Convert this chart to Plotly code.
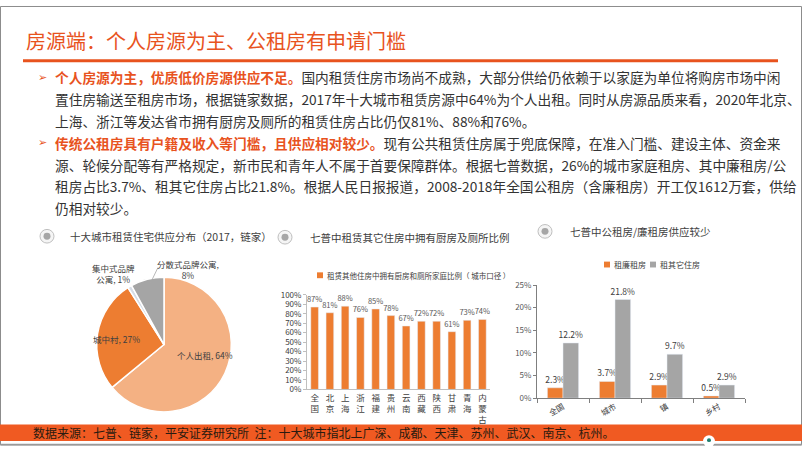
import plotly.graph_objects as go

W, H = 802, 451
def X(px): return px / W
def Y(py): return 1 - py / H

ORANGE_T = "#E8531E"
BAR_OR = "#ED7D31"
GRAY = "#A5A5A5"
FONT = "Noto Sans CJK SC"

# ---------------- data ----------------
pie_labels = ["个人出租", "城中村", "集中式品牌公寓", "分散式品牌公寓"]
pie_values = [64, 27, 1, 8]

mid_categories = ["全国", "北京", "上海", "浙江", "福建", "贵州", "云南", "西藏", "陕西", "甘肃", "青海", "内蒙古"]
mid_values = [87, 81, 88, 76, 85, 78, 67, 72, 72, 61, 73, 74]
mid_series = "租赁其他住房中拥有厨房和厕所家庭比例（ 城市口径 ）"

right_categories = ["全国", "城市", "镇", "乡村"]
right_lianzu = [2.3, 3.7, 2.9, 0.5]
right_other = [12.2, 21.8, 9.7, 2.9]
right_series = ["租廉租房", "租其它住房"]

title = "房源端：个人房源为主、公租房有申请门槛"
chart_titles = ["十大城市租赁住宅供应分布（2017，链家）",
                "七普中租赁其它住房中拥有厨房及厕所比例",
                "七普中公租房/廉租房供应较少"]
footer = "数据来源：七普、链家，平安证券研究所  注：十大城市指北上广深、成都、天津、苏州、武汉、南京、杭州。"

body_lines = [
    ("个人房源为主，优质低价房源供应不足。", "国内租赁住房市场尚不成熟，大部分供给仍依赖于以家庭为单位将购房市场中闲"),
    ("", "置住房输送至租房市场，根据链家数据，2017年十大城市租赁房源中64%为个人出租。同时从房源品质来看，2020年北京、"),
    ("", "上海、浙江等发达省市拥有厨房及厕所的租赁住房占比仍仅81%、88%和76%。"),
    ("传统公租房具有户籍及收入等门槛，且供应相对较少。", "现有公共租赁住房属于兜底保障，在准入门槛、建设主体、资金来"),
    ("", "源、轮候分配等有严格规定，新市民和青年人不属于首要保障群体。根据七普数据，26%的城市家庭租房、其中廉租房/公"),
    ("", "租房占比3.7%、租其它住房占比21.8%。根据人民日报报道，2008-2018年全国公租房（含廉租房）开工仅1612万套，供给"),
    ("", "仍相对较少。"),
]

fig = go.Figure()

# ---------------- pie ----------------
fig.add_trace(go.Pie(
    labels=pie_labels, values=pie_values, sort=False, direction="clockwise", rotation=0,
    marker=dict(colors=["#F4B183", "#ED7D31", "#D6DCE5", "#A5A5A5"], line=dict(color="white", width=1.5)),
    textinfo="none", hoverinfo="label+percent", showlegend=False,
    domain=dict(x=[X(95), X(233)], y=[Y(416), Y(278)]),
))

# ---------------- middle bars ----------------
fig.add_trace(go.Bar(
    x=mid_categories, y=mid_values, name=mid_series, marker_color=BAR_OR, width=0.5,
    text=[f"{v}%" for v in mid_values], textposition="outside", cliponaxis=False, constraintext="none",
    textfont=dict(size=7.6, color="#595959"), xaxis="x2", yaxis="y2", showlegend=False,
))

# ---------------- right grouped bars ----------------
fig.add_trace(go.Bar(
    x=right_categories, y=right_lianzu, name=right_series[0], marker_color=BAR_OR,
    texttemplate="%{y:.1f}%", textposition="outside", cliponaxis=False, constraintext="none",
    textfont=dict(size=8.5, color="#404040"), xaxis="x3", yaxis="y3", showlegend=False,
))
fig.add_trace(go.Bar(
    x=right_categories, y=right_other, name=right_series[1], marker_color=GRAY,
    texttemplate="%{y:.1f}%", textposition="outside", cliponaxis=False, constraintext="none",
    textfont=dict(size=8.5, color="#404040"), xaxis="x3", yaxis="y3", showlegend=False,
))

axis_line = "#BFBFBF"
fig.update_layout(
    width=W, height=H, margin=dict(l=0, r=0, t=0, b=0),
    paper_bgcolor="white", plot_bgcolor="white",
    font=dict(family=FONT, color="#404040"),
    barmode="group", bargap=0.4, bargroupgap=0,
    xaxis2=dict(domain=[X(307), X(490)], anchor="y2", showline=True, linecolor=axis_line,
                ticks="", tickfont=dict(size=8.5, color="#404040"),
                tickvals=mid_categories, ticktext=["<br>".join(c) for c in mid_categories],
                tickangle=0, showgrid=False, fixedrange=True),
    yaxis2=dict(domain=[Y(393), Y(296)], anchor="x2", range=[0, 100], dtick=10, ticksuffix="%",
                showline=True, linecolor=axis_line, ticks="outside", ticklen=3, tickcolor=axis_line,
                tickfont=dict(size=8, color="#404040"), showgrid=False, zeroline=False),
    xaxis3=dict(domain=[X(537), X(745)], anchor="y3", showline=True, linecolor="#7F7F7F",
                ticks="outside", tickson="boundaries", ticklen=4, tickcolor="#7F7F7F",
                tickangle=-30, tickfont=dict(size=8, color="#404040"), showgrid=False),
    yaxis3=dict(domain=[Y(402), Y(286)], anchor="x3", range=[0, 25], dtick=5, ticksuffix="%",
                showline=True, linecolor="#7F7F7F", ticks="outside", ticklen=3, tickcolor="#7F7F7F",
                tickfont=dict(size=8, color="#595959"), showgrid=False, zeroline=False),
)

shapes = []
ann = []

# outer border
shapes.append(dict(type="rect", xref="paper", yref="paper", x0=X(0.5), x1=X(801.5), y0=Y(450), y1=Y(0.5),
                   line=dict(color="#8C8C8C", width=1), fillcolor="rgba(0,0,0,0)", layer="below"))

# title
ann.append(dict(text=title, x=X(24), y=Y(35), xanchor="left", yanchor="middle",
                font=dict(size=20, color=ORANGE_T, family=FONT)))
shapes.append(dict(type="line", xref="paper", yref="paper", x0=X(23), x1=X(778), y0=Y(56), y1=Y(56),
                   line=dict(color=ORANGE_T, width=3)))

# body text
line_y = [73, 95, 118, 140, 163, 185, 207]
for (hl, rest), yy in zip(body_lines, line_y):
    if hl:
        txt = f"<span style='color:{ORANGE_T}'><b>{hl}</b></span>{rest}"
        ann.append(dict(text="➢", x=X(36), y=Y(yy), xanchor="left", yanchor="middle",
                        font=dict(size=11, color=ORANGE_T, family="DejaVu Sans")))
    else:
        txt = rest
    ann.append(dict(text=txt, x=X(53), y=Y(yy), xanchor="left", yanchor="middle",
                    font=dict(size=13.7, color="#333333", family=FONT)))

# chart section titles with circle icons
icons = [(47, 236, 68), (285, 237, 308), (545, 231, 568)]
for (cx, cy, tx), t in zip(icons, chart_titles):
    shapes.append(dict(type="circle", xref="paper", yref="paper", x0=X(cx - 7), x1=X(cx + 7),
                       y0=Y(cy + 7), y1=Y(cy - 7), fillcolor="#F5F5F5", line=dict(color="#BFBFBF", width=1)))
    shapes.append(dict(type="circle", xref="paper", yref="paper", x0=X(cx - 3.5), x1=X(cx + 3.5),
                       y0=Y(cy + 3.5), y1=Y(cy - 3.5), fillcolor="#A6A6A6", line=dict(width=0)))
    ann.append(dict(text=t, x=X(tx), y=Y(cy), xanchor="left", yanchor="middle",
                    font=dict(size=10.5, color="#404040", family=FONT)))

# pie labels
pie_pos = [(205, 358, "center"), (117, 341, "center"), (113, 274, "center"), (188, 270, "center")]
pie_texts = [f"{pie_labels[0]}, {pie_values[0]}%", f"{pie_labels[1]}, {pie_values[1]}%",
             f"{pie_labels[2][:5]}<br>{pie_labels[2][5:]}, {pie_values[2]}%",
             f"{pie_labels[3]},<br>{pie_values[3]}%"]
for (px_, py_, al), t in zip(pie_pos, pie_texts):
    ann.append(dict(text=t, x=X(px_), y=Y(py_), xanchor="center", yanchor="middle", align=al,
                    font=dict(size=8.5, color="#404040", family=FONT)))
shapes.append(dict(type="line", xref="paper", yref="paper", x0=X(149), x1=X(158), y0=Y(287), y1=Y(268),
                   line=dict(color="#A6A6A6", width=0.8)))

# middle legend
shapes.append(dict(type="rect", xref="paper", yref="paper", x0=X(317), x1=X(323), y0=Y(279), y1=Y(273),
                   fillcolor=BAR_OR, line=dict(width=0)))
ann.append(dict(text=mid_series, x=X(325), y=Y(276), xanchor="left", yanchor="middle",
                font=dict(size=7.5, color="#404040", family=FONT)))

# right legend
for (lx, col, name) in [(604, BAR_OR, right_series[0]), (650, GRAY, right_series[1])]:
    shapes.append(dict(type="rect", xref="paper", yref="paper", x0=X(lx), x1=X(lx + 6), y0=Y(268), y1=Y(262),
                       fillcolor=col, line=dict(width=0)))
    ann.append(dict(text=name, x=X(lx + 8), y=Y(265), xanchor="left", yanchor="middle",
                    font=dict(size=8, color="#404040", family=FONT)))

# footer band
shapes.append(dict(type="rect", xref="paper", yref="paper", x0=0, x1=1, y0=Y(446), y1=Y(429),
                   fillcolor="#F05A22", line=dict(width=0)))
shapes.append(dict(type="line", xref="paper", yref="paper", x0=0, x1=1, y0=Y(449.5), y1=Y(449.5),
                   line=dict(color="#9A9A9A", width=1.5)))
shapes.append(dict(type="circle", xref="paper", yref="paper", x0=X(703), x1=X(715), y0=Y(452), y1=Y(440),
                   fillcolor="white", line=dict(width=0)))
shapes.append(dict(type="circle", xref="paper", yref="paper", x0=X(707), x1=X(711), y0=Y(447), y1=Y(443),
                   fillcolor="#1F7F6F", line=dict(width=0)))
ann.append(dict(text=footer, x=X(31), y=Y(437.5), xanchor="left", yanchor="middle",
                font=dict(size=12, color="#2A1A10", family=FONT)))

for a in ann:
    a.update(xref="paper", yref="paper", showarrow=False)
fig.update_layout(shapes=shapes, annotations=ann)

fig.write_html("out.html", config={"displayModeBar": False},
               post_script="document.body.style.margin='0';document.body.style.overflow='hidden';")
